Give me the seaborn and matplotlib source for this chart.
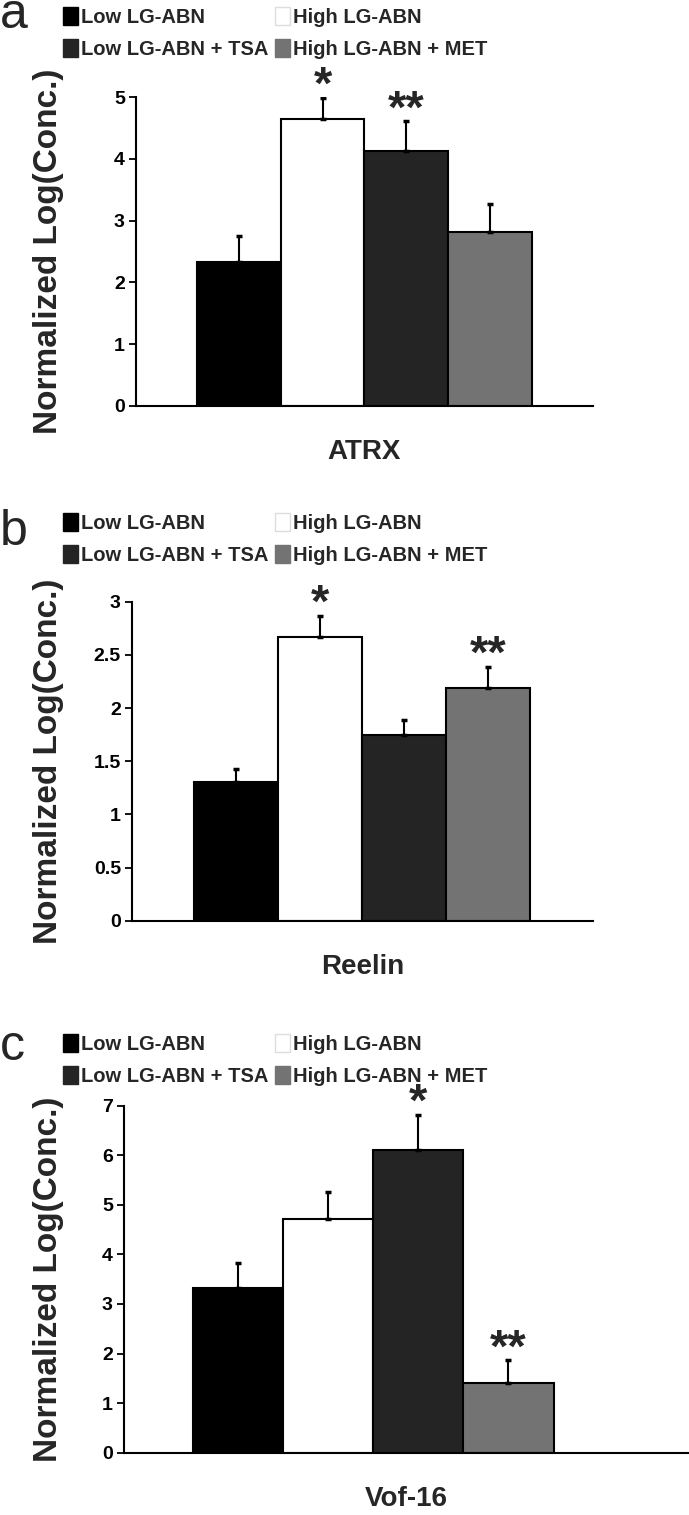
import matplotlib
matplotlib.use("Agg")
import matplotlib.pyplot as plt
from matplotlib.patches import Patch
import seaborn as sns
import pandas as pd

sns.set_theme(style="white")
plt.rcParams['font.family'] = ['Liberation Sans', 'DejaVu Sans']

# groups and colours
groups = ["Low LG-ABN", "High LG-ABN", "Low LG-ABN + TSA", "High LG-ABN + MET"]
colors = ["#000000", "#ffffff", "#242424", "#737373"]

# values (mean, upper error)
atrx_mean = [2.33, 4.65, 4.13, 2.82]
atrx_err = [0.42, 0.34, 0.48, 0.45]
atrx_stars = ["", "*", "**", ""]

reelin_mean = [1.30, 2.67, 1.75, 2.19]
reelin_err = [0.13, 0.20, 0.14, 0.20]
reelin_stars = ["", "*", "", "**"]

vof_mean = [3.33, 4.71, 6.10, 1.40]
vof_err = [0.50, 0.54, 0.72, 0.46]
vof_stars = ["", "", "*", "**"]

W, H = 689, 1515
fig = plt.figure(figsize=(W / 100, H / 100), dpi=100)


def px_axes(left, right, y0, ytop):
    return fig.add_axes([left / W, 1 - y0 / H, (right - left) / W, (y0 - ytop) / H])


def panel(ax, mean, err, stars, ymax, yticks, ticklabels, xlim, gene, letter, leg_y, letter_y):
    df = pd.DataFrame({"group": groups, "value": mean})
    sns.barplot(data=df, x="group", y="value", hue="group", palette=colors,
                width=1.0, edgecolor="black", linewidth=1.5, legend=False, ax=ax)
    ax.errorbar(range(4), mean, yerr=[[0] * 4, err], fmt="none", ecolor="black",
                elinewidth=1.5, capsize=2.5, capthick=2.5, zorder=5)
    for i, s in enumerate(stars):
        if s:
            ax.annotate(s, (i, mean[i] + err[i]), xytext=(0, -1), textcoords="offset points",
                        ha="center", va="baseline", fontsize=34, fontweight="bold")
    ax.set_xlim(*xlim)
    ax.set_ylim(0, ymax)
    ax.set_yticks(yticks)
    ax.set_yticklabels(ticklabels, fontsize=14, fontweight="bold")
    ax.set_xticks([])
    for side in ["top", "right"]:
        ax.spines[side].set_visible(False)
    for side in ["left", "bottom"]:
        ax.spines[side].set_color("black")
        ax.spines[side].set_linewidth(1.5)
    ax.tick_params(axis="y", direction="out", length=5, width=1.3, left=True, pad=3, colors="black")
    ax.set_ylabel("Normalized Log(Conc.)", fontsize=24, fontweight="bold")
    # label's right edge near x=64 px in the figure
    bb = ax.get_position()
    ax.yaxis.set_label_coords((64 / W - bb.x0) / bb.width, 0.5)
    ax.set_xlabel(gene, fontsize=20, fontweight="bold", labelpad=24)
    fig.text(0, 1 - letter_y / H, letter, fontsize=36, va="baseline", ha="left")
    handles = [Patch(facecolor=colors[0], edgecolor=colors[0]),
               Patch(facecolor=colors[2], edgecolor=colors[2]),
               Patch(facecolor=colors[1], edgecolor="#dddddd"),
               Patch(facecolor=colors[3], edgecolor=colors[3])]
    labels = [groups[0], groups[2], groups[1], groups[3]]
    fig.legend(handles, labels, ncol=2, loc="upper left",
               bbox_to_anchor=(63 / W, 1 - leg_y / H), frameon=False,
               prop={"weight": "bold", "size": 14.5},
               handlelength=0.75, handleheight=1.0, handletextpad=0.15,
               columnspacing=0.3, labelspacing=0.6, borderpad=0, borderaxespad=0)


ax_a = px_axes(136, 593, 406, 97)
panel(ax_a, atrx_mean, atrx_err, atrx_stars, 5, [0, 1, 2, 3, 4, 5],
      ["0", "1", "2", "3", "4", "5"], (-1.23, 4.23), "ATRX", "a", 7, 28)

ax_b = px_axes(132, 593, 920.7, 601.7)
panel(ax_b, reelin_mean, reelin_err, reelin_stars, 3, [0, 0.5, 1, 1.5, 2, 2.5, 3],
      ["0", "0.5", "1", "1.5", "2", "2.5", "3"], (-1.24, 4.25), "Reelin", "b", 513, 545)

ax_c = px_axes(124, 689, 1452.7, 1105.7)
panel(ax_c, vof_mean, vof_err, vof_stars, 7, [0, 1, 2, 3, 4, 5, 6, 7],
      ["0", "1", "2", "3", "4", "5", "6", "7"], (-1.26, 5.0), "Vof-16", "c", 1034, 1060)

fig.savefig("out.png", dpi=100, facecolor="white")
